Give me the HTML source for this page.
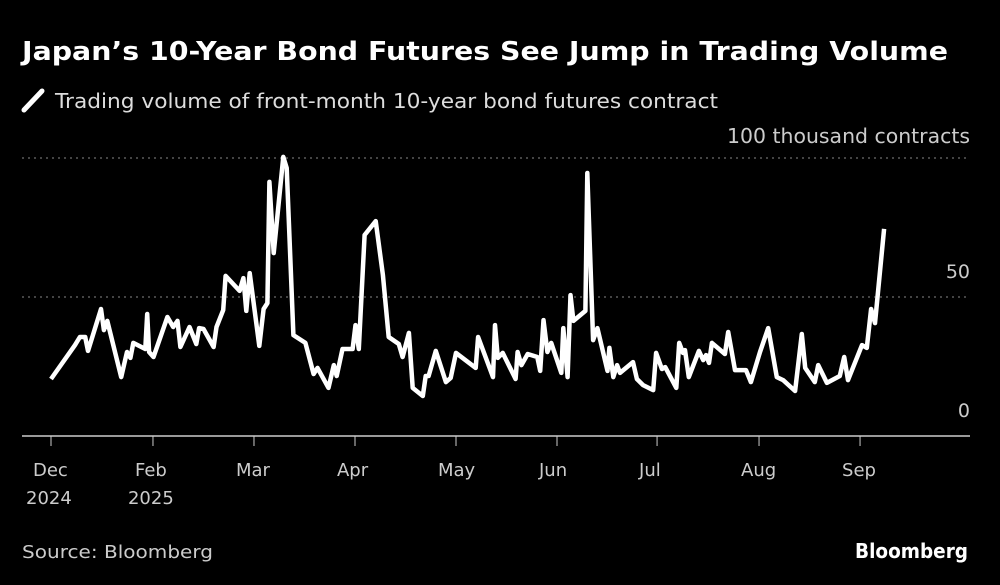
<!DOCTYPE html>
<html><head><meta charset="utf-8"><style>
body{margin:0;background:#000;width:1000px;height:585px;overflow:hidden;font-family:"DejaVu Sans","Liberation Sans",sans-serif;color:#fff}
svg{position:absolute;left:0;top:0}
</style></head><body>
<svg id="c" width="1000" height="585">
<text x="22" y="60" font-size="26" font-weight="bold" fill="#fff" textLength="926" lengthAdjust="spacingAndGlyphs">Japan’s 10-Year Bond Futures See Jump in Trading Volume</text>
<line x1="24" y1="110" x2="42" y2="91" stroke="#fff" stroke-width="5" stroke-linecap="round"/>
<text x="55" y="108" font-size="20" fill="#ddd" textLength="663" lengthAdjust="spacingAndGlyphs">Trading volume of front-month 10-year bond futures contract</text>
<text x="727" y="143" font-size="20" fill="#ccc" textLength="243" lengthAdjust="spacingAndGlyphs">100 thousand contracts</text>
<g id="grid"></g><g id="xax"></g>
<path id="line" fill="none" stroke="#fff" stroke-width="4.5" stroke-linejoin="round"/>
<text x="22" y="558" font-size="18" fill="#ccc" textLength="191" lengthAdjust="spacingAndGlyphs">Source: Bloomberg</text>
<text x="855" y="558" font-size="20" font-weight="bold" fill="#fff" textLength="113" lengthAdjust="spacingAndGlyphs">Bloomberg</text>
</svg>
<script>
const tradingDay=[0,5,6,7.1,7.7,10.4,11,11.7,14.6,15.8,16.5,17.1,19.6,20,20.4,21.3,24.2,25.4,26.3,26.9,28.8,30.2,30.8,31.7,33.8,34.4,35.8,36.3,39.2,40,40.6,41.3,43.3,44.2,45,45.4,46.3,48.3,49,50.4,52.9,54.6,55.4,57.7,58.8,59.4,60.6,62.7,63.3,64,65.2,67.5,69,70.2,72.3,73.1,74.4,75.2,77.3,77.9,78.5,80,82.1,83.1,84.2,88.3,88.8,91.9,92.3,92.9,93.9,96.6,97,97.8,99.1,101.1,101.7,102.4,103.2,104,106.1,106.5,107.4,108,108.6,111.1,111.5,112.7,113.6,115.7,116.1,116.9,117.7,118.3,121,121.8,123.1,125.2,125.8,127,127.7,130,130.6,131.4,131.8,132.6,134.7,135.6,136.2,136.8,137.4,140.1,140.8,142.2,144.5,145.5,147.4,149.1,150.9,152.2,154.7,156.1,156.8,158.8,159.5,161.3,164,164.9,165.7,168.6,169.6,170.5,171.3,173.2];
const volume=[20.5,32.7,35.6,35.6,30.6,45.7,38.1,41.4,21.2,30.2,28.1,33.5,31.3,43.9,30.2,28.4,42.8,39.2,41.4,32,39.2,33.1,38.8,38.5,32,39.2,45.3,57.6,52.2,56.8,45,58.6,32.4,45.7,47.8,91.4,65.8,100.4,96.4,36.3,33.5,22.3,24.5,17.3,25.5,21.6,31.3,31.3,39.9,31.3,72.3,77.3,57.9,35.6,33.1,28.4,37.1,17.3,14.4,21.6,21.6,30.6,19.4,20.9,29.9,24.5,35.6,21.2,39.9,28.1,29.9,20.5,30.2,25.5,29.5,28.4,23.4,41.7,30.2,33.5,22.7,38.8,21.2,50.7,41.4,45,94.6,34.5,38.8,23.4,31.7,21.2,25.5,22.7,26.6,20.5,18.3,16.5,29.9,24.1,24.8,17.3,33.5,29.9,30.9,21.2,30.6,27.3,29.1,26.3,33.5,29.5,37.4,23.7,23.7,19.4,30.2,38.8,21.2,20.1,16.2,36.7,24.5,19.4,25.5,19.1,21.6,28.4,20.1,32.7,31.7,45.7,40.6,74.5];
const monthLabels=["Dec","Feb","Mar","Apr","May","Jun","Jul","Aug","Sep"];
const yearLabels=["2024","2025","","","","","","",""];
const monthDay=[0,21.2,42.2,63.2,84.2,105.2,126,147.2,168.2];
const yTicks=[0,50,100];
const yTickLabels=["0","50",""];
const X=d=>51+d*4.81, Y=v=>436-v*2.78;
const NS="http://www.w3.org/2000/svg";
const grid=document.getElementById('grid'),xax=document.getElementById('xax');
yTicks.forEach((t,i)=>{
 if(t>0){const l=document.createElementNS(NS,'line');
 l.setAttribute('x1',22);l.setAttribute('x2',970);l.setAttribute('y1',Y(t));l.setAttribute('y2',Y(t));
 l.setAttribute('stroke','#888');l.setAttribute('stroke-dasharray','2 4');
 
 grid.appendChild(l);}
 if(yTickLabels[i]){const tx=document.createElementNS(NS,'text');
 tx.setAttribute('x',970);tx.setAttribute('y',Y(t)-19);tx.setAttribute('text-anchor','end');
 tx.setAttribute('font-size','19');tx.setAttribute('fill','#ccc');tx.textContent=yTickLabels[i];
 
 grid.appendChild(tx);}
});
const ax=document.createElementNS(NS,'line');
ax.setAttribute('x1',22);ax.setAttribute('x2',970);ax.setAttribute('y1',436);ax.setAttribute('y2',436);ax.setAttribute('stroke','#ccc');ax.setAttribute('stroke-width','1.5');

xax.appendChild(ax);
monthLabels.forEach((m,i)=>{
 const x=X(monthDay[i]);
 const t=document.createElementNS(NS,'line');t.setAttribute('x1',x);t.setAttribute('x2',x);t.setAttribute('y1',436);t.setAttribute('y2',446);t.setAttribute('stroke','#ccc');
 
 xax.appendChild(t);
 const tx=document.createElementNS(NS,'text');tx.setAttribute('x',x-18);tx.setAttribute('y',476);tx.setAttribute('font-size','18');tx.setAttribute('fill','#ccc');tx.textContent=m;
 
 xax.appendChild(tx);
 if(yearLabels[i]){const ty=document.createElementNS(NS,'text');ty.setAttribute('x',x-25);ty.setAttribute('y',504);ty.setAttribute('font-size','18');ty.setAttribute('fill','#ccc');ty.textContent=yearLabels[i];
 
 xax.appendChild(ty);}
});
document.getElementById('line').setAttribute('d',tradingDay.map((d,i)=>(i?'L':'M')+X(d).toFixed(1)+','+Y(volume[i]).toFixed(1)).join(''));
</script>
</body></html>
